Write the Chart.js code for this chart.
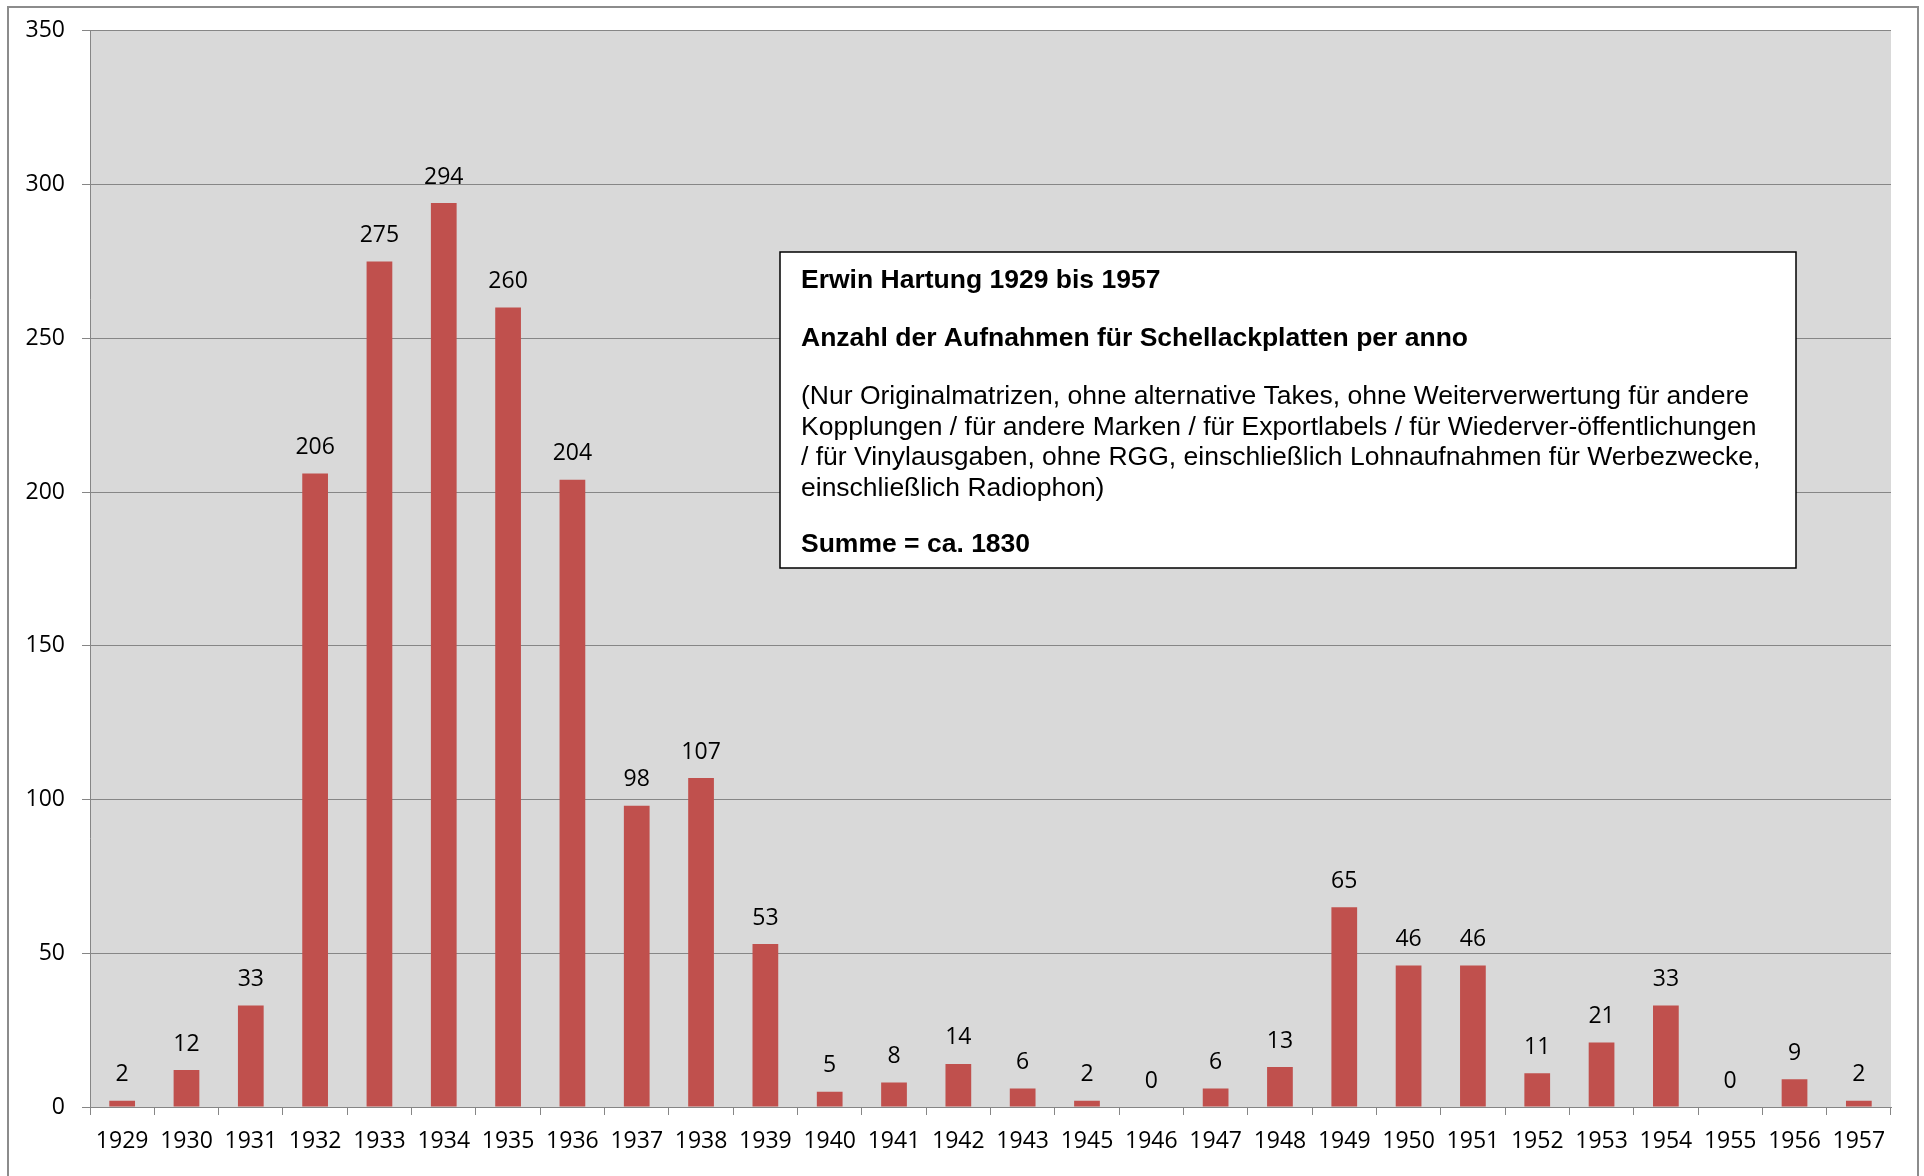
<!DOCTYPE html>
<html>
<head>
<meta charset="utf-8">
<title>Erwin Hartung 1929 bis 1957</title>
<script src="https://cdn.jsdelivr.net/npm/chart.js@4.4.1/dist/chart.umd.min.js"></script>
<style>
  html, body { margin: 0; padding: 0; background: #fff; }
  canvas { display: block; }
</style>
</head>
<body>
<canvas id="hartungChart" width="1924" height="1176"></canvas>
<script>
// years shown on the axis (1944 is missing in the original)
const years = ['1929', '1930', '1931', '1932', '1933', '1934', '1935', '1936', '1937', '1938',
  '1939', '1940', '1941', '1942', '1943', '1945', '1946', '1947', '1948', '1949',
  '1950', '1951', '1952', '1953', '1954', '1955', '1956', '1957'];

// recordings per year
const recordings = [2, 12, 33, 206, 275, 294, 260, 204, 98, 107,
  53, 5, 8, 14, 6, 2, 0, 6, 13, 65,
  46, 46, 11, 21, 33, 0, 9, 2];

const yTicks = [0, 50, 100, 150, 200, 250, 300, 350];

const noteTitle = 'Erwin Hartung 1929 bis 1957';
const noteSubtitle = 'Anzahl der Aufnahmen für Schellackplatten per anno';
const noteLines = [
  '(Nur Originalmatrizen, ohne alternative Takes, ohne Weiterverwertung für andere',
  'Kopplungen / für andere Marken / für Exportlabels / für Wiederver-öffentlichungen',
  '/ für Vinylausgaben, ohne RGG, einschließlich Lohnaufnahmen für Werbezwecke,',
  'einschließlich Radiophon)'
];
const noteSum = 'Summe = ca. 1830';

const labelFont = '23px "Open Sans"';

// grey plot area + outer frame
const backdrop = {
  id: 'backdrop',
  beforeDraw(chart) {
    const { ctx, chartArea: a } = chart;
    ctx.save();
    ctx.fillStyle = '#d9d9d9';
    ctx.fillRect(a.left, a.top, a.right - a.left, a.bottom - a.top);
    ctx.strokeStyle = '#8c8c8c';
    ctx.lineWidth = 2;
    ctx.strokeRect(8, 7, 1910, 1200);
    ctx.restore();
  }
};

// value above every bar
const valueLabels = {
  id: 'valueLabels',
  afterDatasetsDraw(chart) {
    const { ctx } = chart;
    const meta = chart.getDatasetMeta(0);
    ctx.save();
    ctx.font = labelFont;
    ctx.fillStyle = '#000';
    ctx.textAlign = 'center';
    ctx.textBaseline = 'middle';
    meta.data.forEach((bar, i) => {
      ctx.fillText(String(recordings[i]), bar.x, bar.y - 26);
    });
    ctx.restore();
  }
};

// text box in the upper right
const noteBox = {
  id: 'noteBox',
  afterDraw(chart) {
    const { ctx } = chart;
    const x = 780, y = 252, w = 1016, h = 316;
    ctx.save();
    ctx.fillStyle = '#fff';
    ctx.fillRect(x, y, w, h);
    ctx.strokeStyle = '#000';
    ctx.lineWidth = 1.5;
    ctx.strokeRect(x, y, w, h);
    ctx.fillStyle = '#000';
    ctx.textAlign = 'left';
    ctx.textBaseline = 'middle';
    const tx = 801;
    ctx.font = 'bold 26.5px "Liberation Sans"';
    ctx.fillText(noteTitle, tx, 281);
    ctx.fillText(noteSubtitle, tx, 339);
    ctx.font = '26.5px "Liberation Sans"';
    noteLines.forEach((line, i) => ctx.fillText(line, tx, 397 + i * 30.5));
    ctx.font = 'bold 26.5px "Liberation Sans"';
    ctx.fillText(noteSum, tx, 545);
    ctx.restore();
  }
};

const ctx = document.getElementById('hartungChart').getContext('2d');

new Chart(ctx, {
  type: 'bar',
  data: {
    labels: years,
    datasets: [{
      data: recordings,
      backgroundColor: '#c0504d',
      borderWidth: 0,
      barPercentage: 0.4,
      categoryPercentage: 1.0
    }]
  },
  options: {
    responsive: false,
    animation: false,
    devicePixelRatio: 1,
    layout: { padding: { top: 29, right: 33, left: 0, bottom: 0 } },
    plugins: {
      legend: { display: false },
      tooltip: { enabled: false }
    },
    scales: {
      x: {
        offset: true,
        grid: {
          display: true,
          offset: true,
          drawOnChartArea: false,
          drawTicks: true,
          tickLength: 8,
          color: '#868686'
        },
        border: { color: '#868686', width: 1 },
        ticks: {
          font: { family: 'Open Sans', size: 23 },
          color: '#000',
          padding: 13,
          maxRotation: 0,
          autoSkip: false
        },
        afterFit(scale) { scale.height = 69; }
      },
      y: {
        min: 0,
        max: 350,
        afterBuildTicks(scale) { scale.ticks = yTicks.map(v => ({ value: v })); },
        grid: {
          color: '#868686',
          lineWidth: 1,
          tickLength: 8
        },
        border: { color: '#868686', width: 1 },
        ticks: {
          font: { family: 'Open Sans', size: 23 },
          color: '#000',
          padding: 17
        },
        afterFit(scale) { scale.width = 90; }
      }
    }
  },
  plugins: [backdrop, valueLabels, noteBox]
});
</script>
</body>
</html>
